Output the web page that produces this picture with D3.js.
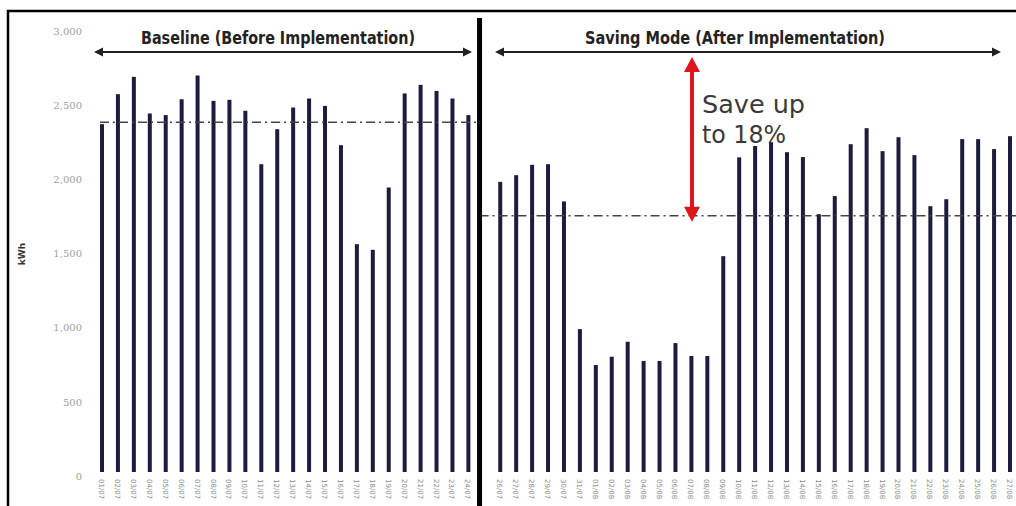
<!DOCTYPE html>
<html>
<head>
<meta charset="utf-8">
<script src="https://cdn.jsdelivr.net/npm/d3@7"></script>
<style>
  body { margin: 0; background: #fff; }
  svg { display: block; }
</style>
</head>
<body>
<div id="chart"></div>
<script>
// daily consumption, kWh
const baselineDates = ["01/07","02/07","03/07","04/07","05/07","06/07","07/07","08/07","09/07","10/07","11/07","12/07",
  "13/07","14/07","15/07","16/07","17/07","18/07","19/07","20/07","21/07","22/07","23/07","24/07"];
const baselineValues = [2372, 2574, 2691, 2444, 2433, 2540, 2700, 2529, 2536, 2462, 2102, 2338,
  2484, 2545, 2495, 2230, 1563, 1525, 1945, 2579, 2637, 2596, 2545, 2433];

const savingDates = ["26/07","27/07","28/07","29/07","30/07","31/07","01/08","02/08","03/08","04/08","05/08",
  "06/08","07/08","08/08","09/08","10/08","11/08","12/08","13/08","14/08","15/08","16/08",
  "17/08","18/08","19/08","20/08","21/08","22/08","23/08","24/08","25/08","26/08","27/08"];
const savingValues = [1983, 2028, 2098, 2102, 1851, 990, 748, 804, 905, 775, 775,
  896, 809, 809, 1482, 2148, 2225, 2250, 2183, 2150, 1765, 1887,
  2237, 2345, 2190, 2284, 2163, 1819, 1866, 2271, 2271, 2204, 2291];

const baselineAvg = 2385;
const savingAvg = 1754;
const yTicks = [0, 500, 1000, 1500, 2000, 2500, 3000];

const width = 1016, height = 506;
const BAR = "#1c1c3e";

const svg = d3.select("#chart").append("svg")
  .attr("width", width)
  .attr("height", height);

// one index scale, slot 24 is the gap between the two periods
const gap = baselineValues.length + 1;
const data = baselineValues.map((v, i) => ({ i, v, label: baselineDates[i] }))
  .concat(savingValues.map((v, k) => ({ i: gap + k, v, label: savingDates[k] })));

const x = d3.scaleLinear()
  .domain([0, gap + savingValues.length - 1])
  .range([102, 1010]);

const y = d3.scaleLinear()
  .domain([0, 3000])
  .range([476, 31]);

// frame
svg.append("path")
  .attr("d", `M8,${height} V11 H${width}`)
  .attr("fill", "none")
  .attr("stroke", "#000")
  .attr("stroke-width", 2.5);

// y axis
const yAxis = svg.append("g")
  .attr("transform", "translate(84,0)")
  .call(d3.axisLeft(y).tickValues(yTicks).tickSize(0).tickPadding(2).tickFormat(d3.format(",")));
yAxis.select(".domain").remove();
yAxis.selectAll("text")
  .attr("fill", "#a0a0a0")
  .attr("font-family", "DejaVu Serif, serif")
  .attr("font-size", "10px");

svg.append("text")
  .attr("transform", "translate(25,254) rotate(-90)")
  .attr("text-anchor", "middle")
  .attr("font-family", "DejaVu Sans, sans-serif")
  .attr("font-size", "9px")
  .attr("font-weight", "bold")
  .attr("fill", "#333")
  .text("kWh");

// x labels (rotated dates)
svg.append("g")
  .selectAll("text")
  .data(data)
  .enter()
  .append("text")
  .attr("transform", (d) => `translate(${x(d.i) - 3},479) rotate(90)`)
  .attr("font-family", "DejaVu Sans, sans-serif")
  .attr("font-size", "7px")
  .attr("fill", "#8a8a8a")
  .text((d) => d.label);

// bars
svg.append("g")
  .selectAll("rect")
  .data(data)
  .enter()
  .append("rect")
  .attr("x", (d) => x(d.i) - 2)
  .attr("width", 4)
  .attr("y", (d) => y(d.v))
  .attr("height", (d) => y(0) - y(d.v) - 4)
  .attr("fill", BAR);

// average lines
const divX = x(gap - 1.3);
const dashStyle = "9,4,2,4";
svg.append("line")
  .attr("x1", x(0) - 2).attr("x2", divX)
  .attr("y1", y(baselineAvg)).attr("y2", y(baselineAvg))
  .attr("stroke", "#444").attr("stroke-width", 1.5)
  .attr("stroke-dasharray", dashStyle);
svg.append("line")
  .attr("x1", divX).attr("x2", width)
  .attr("y1", y(savingAvg)).attr("y2", y(savingAvg))
  .attr("stroke", "#444").attr("stroke-width", 1.5)
  .attr("stroke-dasharray", dashStyle);

// divider between periods
svg.append("line")
  .attr("x1", divX).attr("x2", divX)
  .attr("y1", 18).attr("y2", height)
  .attr("stroke", "#000")
  .attr("stroke-width", 5);

// period headers with double arrows
function headArrow(x1, x2, yy) {
  svg.append("line")
    .attr("x1", x1 + 6).attr("x2", x2 - 6)
    .attr("y1", yy).attr("y2", yy)
    .attr("stroke", "#222").attr("stroke-width", 2);
  svg.append("path")
    .attr("d", `M${x1},${yy} l9,-4.5 v9 Z M${x2},${yy} l-9,-4.5 v9 Z`)
    .attr("fill", "#222");
}

const headers = [
  { text: "Baseline (Before Implementation)", cx: 278, len: 274, a: 94, b: 472 },
  { text: "Saving Mode (After Implementation)", cx: 735, len: 300, a: 495, b: 1001 },
];
headers.forEach((h) => {
  svg.append("text")
    .attr("x", h.cx)
    .attr("y", 44)
    .attr("text-anchor", "middle")
    .attr("font-family", "Liberation Sans Narrow, DejaVu Sans Condensed, Liberation Sans, sans-serif")
    .attr("font-size", "18px")
    .attr("font-weight", "bold")
    .attr("fill", "#222")
    .attr("textLength", h.len)
    .attr("lengthAdjust", "spacingAndGlyphs")
    .text(h.text);
  headArrow(h.a, h.b, 52);
});

// red savings arrow
const RED = "#e0141c";
const ax = 692;
const yTop = 57, yBot = y(savingAvg) + 6;
svg.append("line")
  .attr("x1", ax).attr("x2", ax)
  .attr("y1", yTop + 12).attr("y2", yBot - 12)
  .attr("stroke", RED).attr("stroke-width", 4);
svg.append("path")
  .attr("d", `M${ax},${yTop} l-8,15 h16 Z M${ax},${yBot} l-8,-15 h16 Z`)
  .attr("fill", RED);

svg.append("text")
  .attr("x", 702).attr("y", 113)
  .attr("font-family", "DejaVu Sans, sans-serif")
  .attr("font-size", "24px")
  .attr("fill", "#3a3a3a")
  .attr("textLength", 103)
  .attr("lengthAdjust", "spacingAndGlyphs")
  .text("Save up");
svg.append("text")
  .attr("x", 702).attr("y", 143)
  .attr("font-family", "DejaVu Sans, sans-serif")
  .attr("font-size", "24px")
  .attr("fill", "#3a3a3a")
  .attr("textLength", 84)
  .attr("lengthAdjust", "spacingAndGlyphs")
  .text("to 18%");
</script>
</body>
</html>
